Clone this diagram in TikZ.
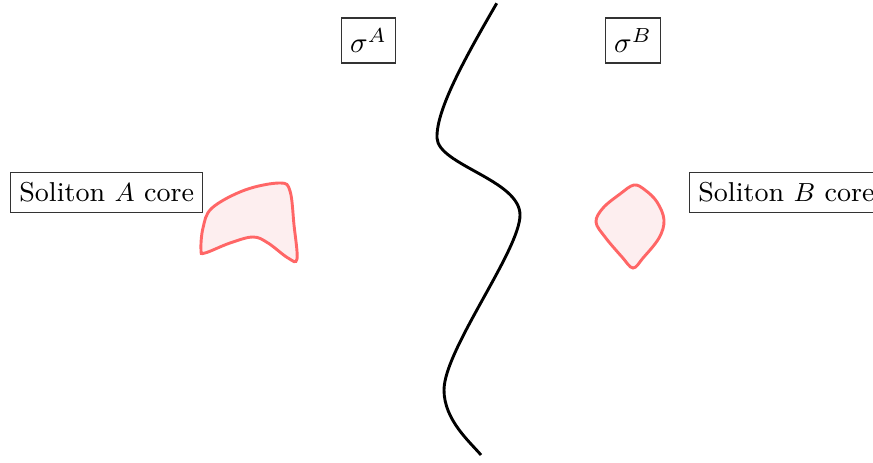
\documentclass[tikz,border=0pt]{standalone}
\begin{document}
\begin{tikzpicture}[x=0.344pt,y=-0.344pt,
  lbl/.style={draw=black!80, line width=0.4pt, inner xsep=3pt, inner ysep=2pt, minimum height=13.6pt, font=\fontsize{9.4}{11}\selectfont},
  sig/.style={lbl, minimum height=15.5pt, minimum width=18.2pt, font=\fontsize{10}{12}\selectfont},
  core/.style={draw={rgb,255:red,255;green,102;blue,102}, fill={rgb,255:red,253;green,238;blue,239}, line width=1pt},
  wall/.style={draw=black, line width=1pt}]
\useasboundingbox (0,0) rectangle (873,462);
\node[lbl, anchor=west] (la) at (10,192.5) {Soliton $A$ core};
\node[lbl, anchor=west] (lb) at (689,192.5) {Soliton $B$ core};
\node[sig] (sa) at (368.5,40.5) {$\sigma^A$};
\node[sig] (sb) at (633,40.5) {$\sigma^B$};
\path[core] plot[smooth cycle, tension=0.6] coordinates {(201,250) (203,228) (212,208) (245,190) (280,183) (290,191) (294,225) (297,259) (288,258) (268,243) (253,237) (230,243) (205,253)};
\path[core] plot[smooth cycle, tension=0.6] coordinates {(634,185) (645,190) (657,202) (664,220) (659,238) (643,258) (633,268) (622,257) (605,237) (596,222) (603,208) (620,194)};
\coordinate (w0) at (496.7,3.3);
\coordinate (w1) at (437,138);
\coordinate (w2) at (520,215);
\coordinate (w3) at (444,390);
\coordinate (w4) at (481,455);
\path[wall] (w0) .. controls (465,58) and (436,110) .. (w1)
  .. controls (438,165) and (520,180) .. (w2)
  .. controls (520,250) and (444,350) .. (w3)
  .. controls (444,420) and (470,442) .. (w4);
\end{tikzpicture}
\end{document}
